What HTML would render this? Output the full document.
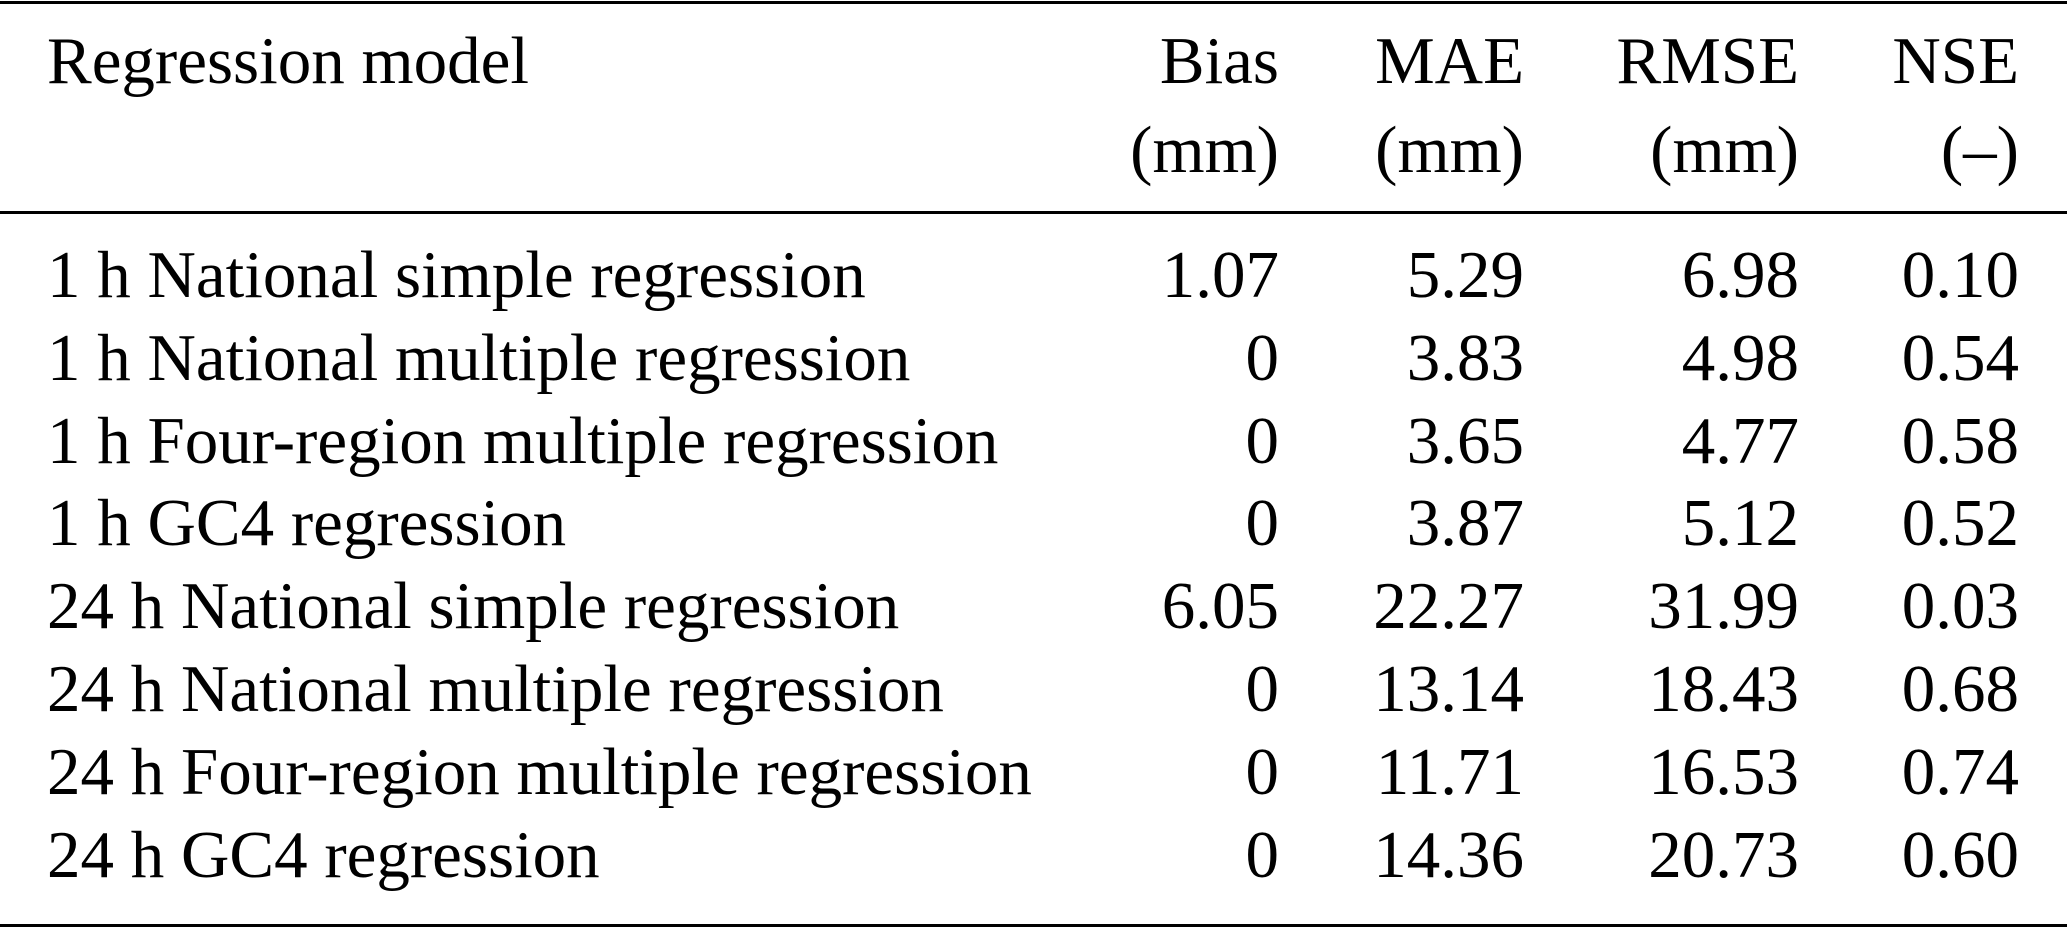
<!DOCTYPE html>
<html><head><meta charset="utf-8"><style>
html,body{margin:0;padding:0;background:#fff;}
svg{display:block;}
text{font-family:"Liberation Serif",serif;font-size:67px;fill:#000;}
.r{text-anchor:end;}
</style></head><body>
<svg width="2067" height="929" viewBox="0 0 2067 929">
<rect x="0" y="1" width="2067" height="3" fill="#000"/>
<rect x="0" y="211" width="2067" height="3" fill="#000"/>
<rect x="0" y="924" width="2067" height="3" fill="#000"/>
<text x="47" y="83">Regression model</text>
<text class="r" x="1279" y="83">Bias</text><text class="r" x="1279" y="172">(mm)</text>
<text class="r" x="1524" y="83">MAE</text><text class="r" x="1524" y="172">(mm)</text>
<text class="r" x="1799" y="83">RMSE</text><text class="r" x="1799" y="172">(mm)</text>
<text class="r" x="2019" y="83">NSE</text><text class="r" x="2019" y="172">(–)</text>

<text x="47" y="297">1 h National simple regression</text>
<text class="r" x="1279" y="297">1.07</text><text class="r" x="1524" y="297">5.29</text><text class="r" x="1799" y="297">6.98</text><text class="r" x="2019" y="297">0.10</text>

<text x="47" y="380">1 h National multiple regression</text>
<text class="r" x="1279" y="380">0</text><text class="r" x="1524" y="380">3.83</text><text class="r" x="1799" y="380">4.98</text><text class="r" x="2019" y="380">0.54</text>

<text x="47" y="463">1 h Four-region multiple regression</text>
<text class="r" x="1279" y="463">0</text><text class="r" x="1524" y="463">3.65</text><text class="r" x="1799" y="463">4.77</text><text class="r" x="2019" y="463">0.58</text>

<text x="47" y="545">1 h GC4 regression</text>
<text class="r" x="1279" y="545">0</text><text class="r" x="1524" y="545">3.87</text><text class="r" x="1799" y="545">5.12</text><text class="r" x="2019" y="545">0.52</text>

<text x="47" y="628">24 h National simple regression</text>
<text class="r" x="1279" y="628">6.05</text><text class="r" x="1524" y="628">22.27</text><text class="r" x="1799" y="628">31.99</text><text class="r" x="2019" y="628">0.03</text>

<text x="47" y="711">24 h National multiple regression</text>
<text class="r" x="1279" y="711">0</text><text class="r" x="1524" y="711">13.14</text><text class="r" x="1799" y="711">18.43</text><text class="r" x="2019" y="711">0.68</text>

<text x="47" y="794">24 h Four-region multiple regression</text>
<text class="r" x="1279" y="794">0</text><text class="r" x="1524" y="794">11.71</text><text class="r" x="1799" y="794">16.53</text><text class="r" x="2019" y="794">0.74</text>

<text x="47" y="877">24 h GC4 regression</text>
<text class="r" x="1279" y="877">0</text><text class="r" x="1524" y="877">14.36</text><text class="r" x="1799" y="877">20.73</text><text class="r" x="2019" y="877">0.60</text>
</svg>
</body></html>
